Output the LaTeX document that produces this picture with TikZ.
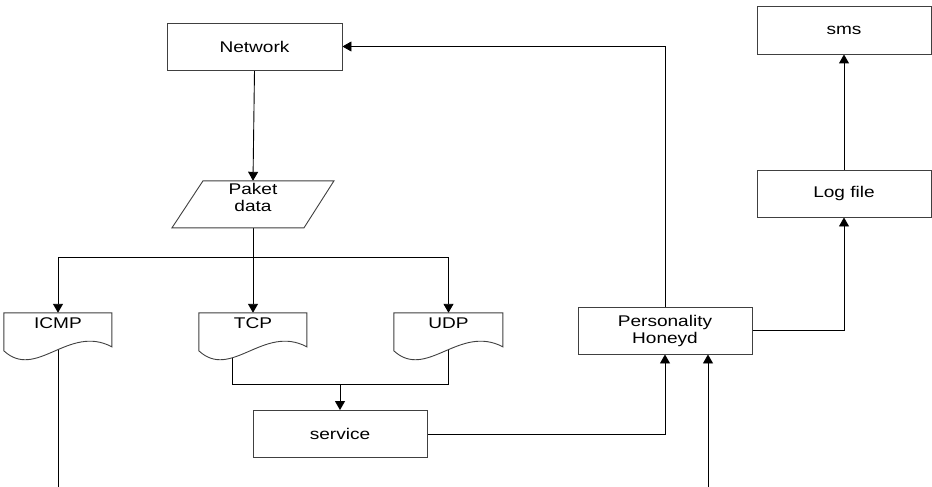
\documentclass[tikz,border=0pt]{standalone}
\usepackage{fontspec}
\newfontfamily\flowfont[FakeStretch=1.23]{Liberation Sans}
\usetikzlibrary{arrows.meta,calc}
\pgfdeclarelayer{wires}
\pgfdeclarelayer{shapes}
\pgfsetlayers{wires,shapes,main}

% document symbol (flat top, wavy bottom) hanging from the node's north west corner
\newcommand\flowdoc[2]{%
  \draw[outline, shift={(#1.north west)}] (0,0) -- (#2,0) -- (#2,34)
    .. controls ({0.6*#2},11) and ({0.3*#2},68) .. (0,38) -- cycle;}

\begin{document}
\begin{tikzpicture}[x=1pt,y=-1pt,
  every node/.style={font=\flowfont\fontsize{15.5}{17}\selectfont, align=center, inner sep=0pt},
  box/.style={draw=black!75, line width=0.9pt, minimum width=175pt, minimum height=47pt},
  doc/.style={minimum height=20pt},
  outline/.style={draw=black!75, line width=0.9pt, fill=white},
  link/.style={line width=0.9pt},
  arr/.style={link, -{Triangle[width=10pt,length=9pt]}}]
\useasboundingbox (0,0) rectangle (932,487);

% process boxes
\node[box] (network) at (254.5,46.5) {Network};
\node[box, minimum width=174pt, minimum height=48pt] (sms) at (844,30) {sms};
\node[box, minimum width=174pt] (log) at (844,193.5) {Log file};
\node[box, minimum width=174pt] (pers) at (665,330.5) {Personality\\Honeyd};
\node[box, minimum width=174pt] (service) at (340,434) {service};

% data (parallelogram) and document symbols
\node[minimum height=32pt] (paket) at (253,197) {Paket\\data};
\node[doc, minimum width=108pt] (icmp) at (58,323) {ICMP};
\node[doc, minimum width=108pt] (tcp) at (253,323) {TCP};
\node[doc, minimum width=109pt] (udp) at (448.5,323) {UDP};

\begin{pgfonlayer}{shapes}
  \draw[outline, shift={(paket.north)}] (-50,0) -- (81,0) -- (51,47) -- (-81,47) -- cycle;
  \flowdoc{icmp}{108}
  \flowdoc{tcp}{108}
  \flowdoc{udp}{109}
\end{pgfonlayer}

% junction points and open ends
\coordinate (split) at (253,257);
\coordinate (tcpdrop) at (232,384);
\coordinate (merge) at (340,384);
\coordinate (icmpend) at (58,487);
\coordinate (extin) at (708,487);

\begin{pgfonlayer}{wires}
  \draw[arr] (network.south) -- (paket.north);
  \draw[link] (paket) -- (split);
  \draw[arr] (split) -| (icmp.north);
  \draw[arr] (split) -- (tcp.north);
  \draw[arr] (split) -| (udp.north);
  \draw[link] (icmp) -- (icmpend);
  \draw[link] (tcp.center -| tcpdrop) -- (tcpdrop) -| (udp.center);
  \draw[arr] (merge) -- (service.north);
  \draw[arr] (service.east) -| (pers.south);
  \draw[arr] (extin) -- (extin |- pers.south);
  \draw[arr] (pers.north) |- (network.east);
  \draw[arr] (pers.east) -| (log.south);
  \draw[arr] (log.north) -- (sms.south);
\end{pgfonlayer}
\end{tikzpicture}
\end{document}
